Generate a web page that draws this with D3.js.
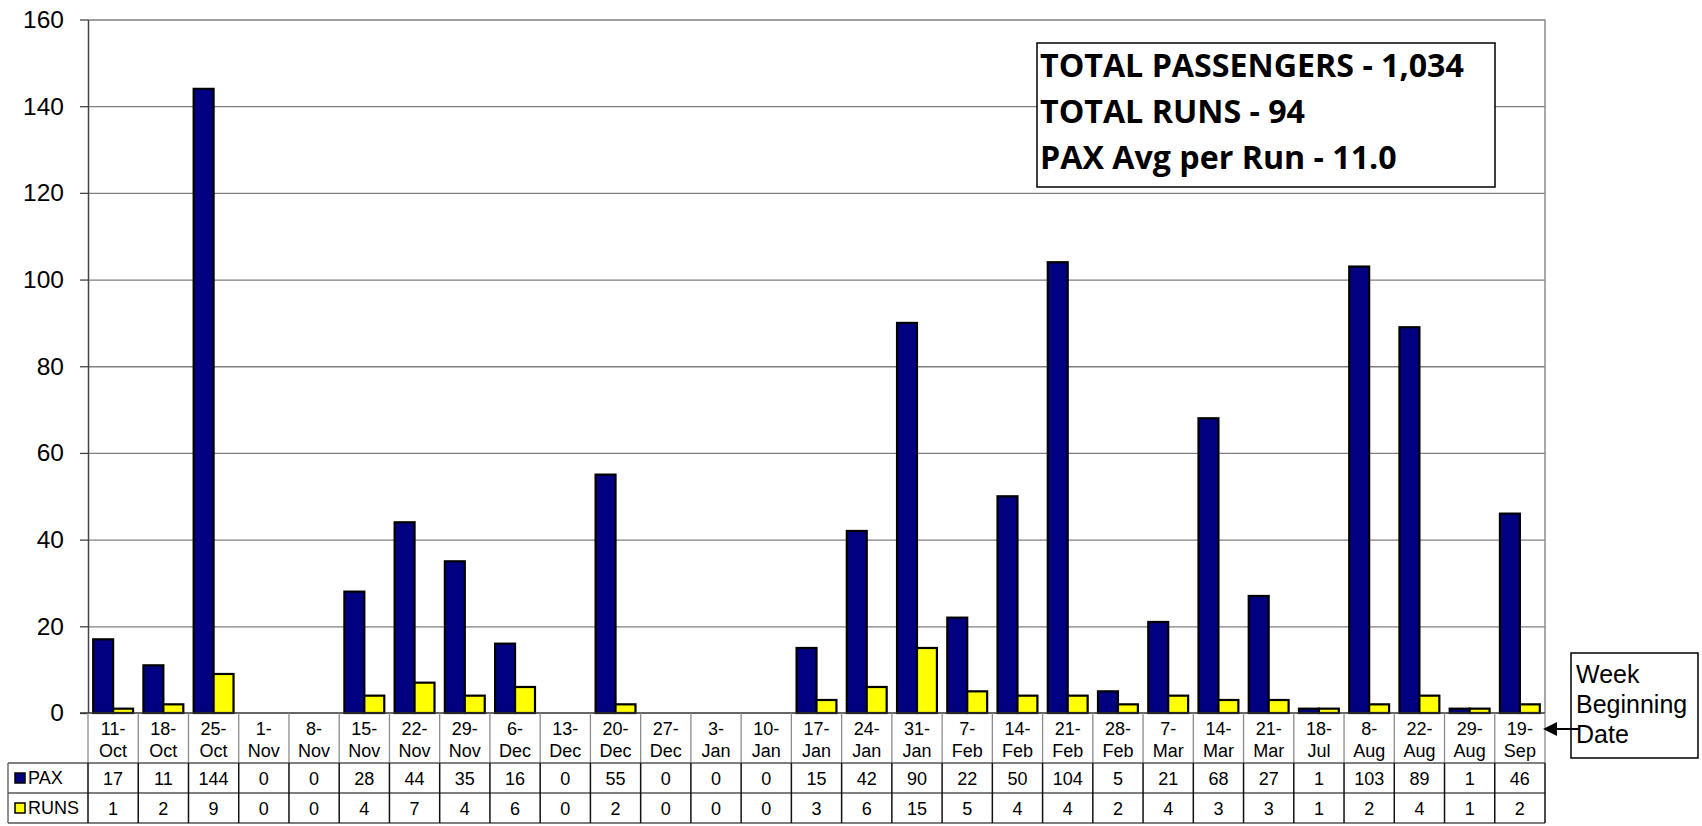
<!DOCTYPE html>
<html>
<head>
<meta charset="utf-8">
<script src="https://cdn.jsdelivr.net/npm/d3@7"></script>
<style>
  body { margin: 0; background: #fff; }
  svg { display: block; }
</style>
</head>
<body>
<div id="graph"></div>
<script>
var weeks = ["11-Oct","18-Oct","25-Oct","1-Nov","8-Nov","15-Nov","22-Nov","29-Nov","6-Dec","13-Dec",
  "20-Dec","27-Dec","3-Jan","10-Jan","17-Jan","24-Jan","31-Jan","7-Feb","14-Feb","21-Feb",
  "28-Feb","7-Mar","14-Mar","21-Mar","18-Jul","8-Aug","22-Aug","29-Aug","19-Sep"];
var pax = [17,11,144,0,0,28,44,35,16,0,55,0,0,0,15,42,90,22,50,104,5,21,68,27,1,103,89,1,46];
var runs = [1,2,9,0,0,4,7,4,6,0,2,0,0,0,3,6,15,5,4,4,2,4,3,3,1,2,4,1,2];
var yTicks = [0,20,40,60,80,100,120,140,160];
var seriesNames = ["PAX","RUNS"];
var seriesColors = ["#000080","#ffff00"];
var notes = ["TOTAL PASSENGERS - 1,034","TOTAL RUNS - 94","PAX Avg per Run - 11.0"];
var axisNote = ["Week","Beginning","Date"];

var w = 1702, h = 826;
var plotLeft = 88, plotRight = 1545, plotTop = 19.5, plotBottom = 713;
var font = "'Liberation Sans', Arial, sans-serif";

var vis = d3.select("#graph").append("svg")
  .attr("width", w)
  .attr("height", h);

var x = d3.scaleBand().domain(weeks).range([plotLeft, plotRight]);
var x1 = d3.scaleBand().domain(seriesNames).range([0, x.bandwidth()]).paddingOuter(0.26);
var y = d3.scaleLinear().domain([0, 160]).range([plotBottom, plotTop]);

// gridlines
vis.append("g")
  .attr("transform", "translate(" + plotLeft + ",0)")
  .call(d3.axisLeft(y).tickValues(yTicks.slice(1)).tickSize(-(plotRight - plotLeft)).tickFormat(""))
  .call(g => g.select(".domain").remove())
  .selectAll("line").attr("stroke", "#7f7f7f").attr("stroke-width", 1.3);

// plot border right
vis.append("line")
  .attr("x1", plotRight).attr("x2", plotRight).attr("y1", plotTop).attr("y2", plotBottom)
  .attr("stroke", "#8c8c8c").attr("stroke-width", 1.5);

// y axis
var ya = vis.append("g")
  .attr("transform", "translate(" + plotLeft + ",0)")
  .call(d3.axisLeft(y).tickValues(yTicks).tickSize(8).tickSizeOuter(0).tickPadding(16));
ya.select(".domain").attr("stroke", "#444").attr("stroke-width", 1.5);
ya.selectAll(".tick line").attr("stroke", "#444").attr("stroke-width", 1.3);
ya.selectAll("text").attr("font-family", font).attr("font-size", 24.5).attr("fill", "#000");

// bars
var rows = weeks.map((wk, i) => ({week: wk, vals: [pax[i], runs[i]]}));
var grp = vis.selectAll(".grp")
  .data(rows)
  .enter()
  .append("g")
  .attr("transform", d => "translate(" + x(d.week) + ",0)");

grp.selectAll("rect")
  .data(d => d.vals.map((v, j) => ({name: seriesNames[j], v: v, c: seriesColors[j]})).filter(e => e.v > 0))
  .enter()
  .append("rect")
  .attr("x", d => x1(d.name))
  .attr("y", d => y(d.v))
  .attr("width", x1.bandwidth())
  .attr("height", d => y(0) - y(d.v))
  .attr("fill", d => d.c)
  .attr("stroke", "#000")
  .attr("stroke-width", 2.2);

// zero line
vis.append("line")
  .attr("x1", plotLeft - 8).attr("x2", plotRight).attr("y1", y(0)).attr("y2", y(0))
  .attr("stroke", "#333").attr("stroke-width", 1.5);

// data table
var rowTop = [713, 763, 793, 823];
var tbl = vis.append("g");

// category row (gray lines)
weeks.forEach(function(wk) {
  tbl.append("line")
    .attr("x1", x(wk)).attr("x2", x(wk)).attr("y1", rowTop[0]).attr("y2", rowTop[1])
    .attr("stroke", "#8c8c8c").attr("stroke-width", 1.3);
});
tbl.append("line")
  .attr("x1", plotRight).attr("x2", plotRight).attr("y1", rowTop[0]).attr("y2", rowTop[1])
  .attr("stroke", "#8c8c8c").attr("stroke-width", 1.3);

weeks.forEach(function(wk) {
  var parts = wk.split("-");
  var cx = x(wk) + x.bandwidth() / 2;
  tbl.append("text").attr("x", cx).attr("y", 735).attr("text-anchor", "middle")
    .attr("font-family", font).attr("font-size", 18).text(parts[0] + "-");
  tbl.append("text").attr("x", cx).attr("y", 757).attr("text-anchor", "middle")
    .attr("font-family", font).attr("font-size", 18).text(parts[1]);
});

// value rows
[rowTop[1], rowTop[2], rowTop[3]].forEach(function(yy) {
  tbl.append("line").attr("x1", 8).attr("x2", plotRight).attr("y1", yy).attr("y2", yy)
    .attr("stroke", "#555").attr("stroke-width", 1.3);
});
tbl.append("line").attr("x1", 8).attr("x2", 8).attr("y1", rowTop[1]).attr("y2", rowTop[3])
  .attr("stroke", "#555").attr("stroke-width", 1.3);
weeks.forEach(function(wk) {
  tbl.append("line").attr("x1", x(wk)).attr("x2", x(wk)).attr("y1", rowTop[1]).attr("y2", rowTop[3])
    .attr("stroke", "#111").attr("stroke-width", 1.5);
});
tbl.append("line").attr("x1", plotRight).attr("x2", plotRight).attr("y1", rowTop[1]).attr("y2", rowTop[3])
  .attr("stroke", "#111").attr("stroke-width", 1.5);

[pax, runs].forEach(function(series, j) {
  var base = rowTop[j + 1];
  tbl.append("rect")
    .attr("x", 15).attr("y", base + 10).attr("width", 10).attr("height", 10)
    .attr("fill", seriesColors[j]).attr("stroke", "#000").attr("stroke-width", 1.5);
  tbl.append("text").attr("x", 28).attr("y", base + 21)
    .attr("font-family", font).attr("font-size", 18).text(seriesNames[j]);
  series.forEach(function(v, i) {
    tbl.append("text")
      .attr("x", x(weeks[i]) + x.bandwidth() / 2).attr("y", base + 22)
      .attr("text-anchor", "middle")
      .attr("font-family", font).attr("font-size", 18).text(v);
  });
});

// totals box
vis.append("rect")
  .attr("x", 1037).attr("y", 43).attr("width", 458).attr("height", 144)
  .attr("fill", "#fff").attr("stroke", "#000").attr("stroke-width", 1.5);
var noteText = vis.selectAll(".note")
  .data(notes)
  .enter()
  .append("text")
  .attr("class", "note")
  .attr("x", 1040)
  .attr("y", (d, i) => 77 + i * 46)
  .attr("font-family", "'Open Sans', Lato, sans-serif")
  .attr("font-weight", "bold")
  .attr("font-size", 26)
  .text(d => d);
// size the note font so the first line spans the same width as the reference
var firstW = noteText.node().getComputedTextLength();
if (firstW > 0) noteText.attr("font-size", 26 * 424 / firstW);

// week beginning note + arrow
vis.append("rect")
  .attr("x", 1571).attr("y", 653).attr("width", 127).attr("height", 105)
  .attr("fill", "#fff").attr("stroke", "#000").attr("stroke-width", 1.5);
axisNote.forEach(function(t, i) {
  vis.append("text")
    .attr("x", 1576).attr("y", 683 + i * 30)
    .attr("font-family", font).attr("font-size", 25).text(t);
});
vis.append("line")
  .attr("x1", 1580).attr("x2", 1555).attr("y1", 729).attr("y2", 729)
  .attr("stroke", "#000").attr("stroke-width", 2);
vis.append("path")
  .attr("d", "M1543,729 L1557,722 L1557,736 Z")
  .attr("fill", "#000");
</script>
</body>
</html>
